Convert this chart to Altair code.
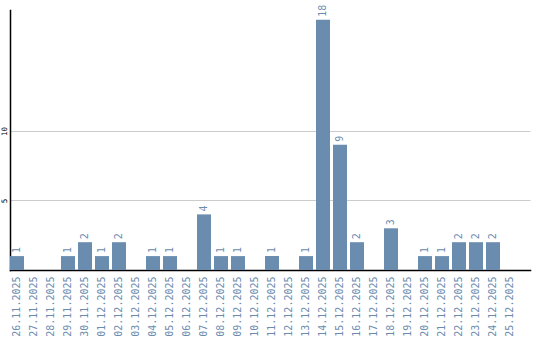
import altair as alt
import pandas as pd

dates = ["26.11.2025", "27.11.2025", "28.11.2025", "29.11.2025", "30.11.2025",
         "01.12.2025", "02.12.2025", "03.12.2025", "04.12.2025", "05.12.2025",
         "06.12.2025", "07.12.2025", "08.12.2025", "09.12.2025", "10.12.2025",
         "11.12.2025", "12.12.2025", "13.12.2025", "14.12.2025", "15.12.2025",
         "16.12.2025", "17.12.2025", "18.12.2025", "19.12.2025", "20.12.2025",
         "21.12.2025", "22.12.2025", "23.12.2025", "24.12.2025", "25.12.2025"]
counts = [1, 0, 0, 1, 2, 1, 2, 0, 1, 1, 0, 4, 1, 1, 0, 1, 0, 1, 18, 9,
          2, 0, 3, 0, 1, 1, 2, 2, 2, 0]
y_ticks = [5, 10]

df = pd.DataFrame({"date": dates, "count": counts})
df["label"] = df["count"].apply(lambda v: str(v) if v > 0 else "")

FONT = "DejaVu Sans Mono"
COLOR = "#6a8caf"

x = alt.X("date:N", sort=dates, title=None,
          scale=alt.Scale(paddingInner=3/17, paddingOuter=0.382, align=0),
          axis=alt.Axis(labelAngle=270, labelAlign="right", labelBaseline="middle",
                        labelColor=COLOR, labelFont=FONT, labelFontSize=10,
                        labelPadding=6, ticks=False, domainColor="black",
                        domainWidth=1.5, labelOverlap=False))
y = alt.Y("count:Q", title=None,
          scale=alt.Scale(domain=[0, 18.7], nice=False),
          axis=alt.Axis(values=y_ticks, labelAngle=270, labelAlign="center",
                        labelBaseline="bottom", labelFont=FONT, labelFontSize=7.5,
                        labelColor="black", labelPadding=2, ticks=False,
                        domainColor="black", domainWidth=1.5,
                        grid=True, gridColor="#cccccc", gridWidth=1))

bars = alt.Chart(df).mark_bar(color=COLOR).encode(x=x, y=y)
text = alt.Chart(df).mark_text(angle=270, align="left", baseline="middle",
                               dx=3, font=FONT, fontSize=10, color=COLOR).encode(
    x=alt.X("date:N", sort=dates), y="count:Q", text="label:N")

chart = (bars + text).properties(
    width=520, height=260,
    autosize="none",
    padding={"left": 10, "top": 10, "right": 10, "bottom": 70},
).configure_view(stroke=None).configure_axis(domainCap="square")

chart.save("out.html", embed_options={"renderer": "svg", "actions": False})
